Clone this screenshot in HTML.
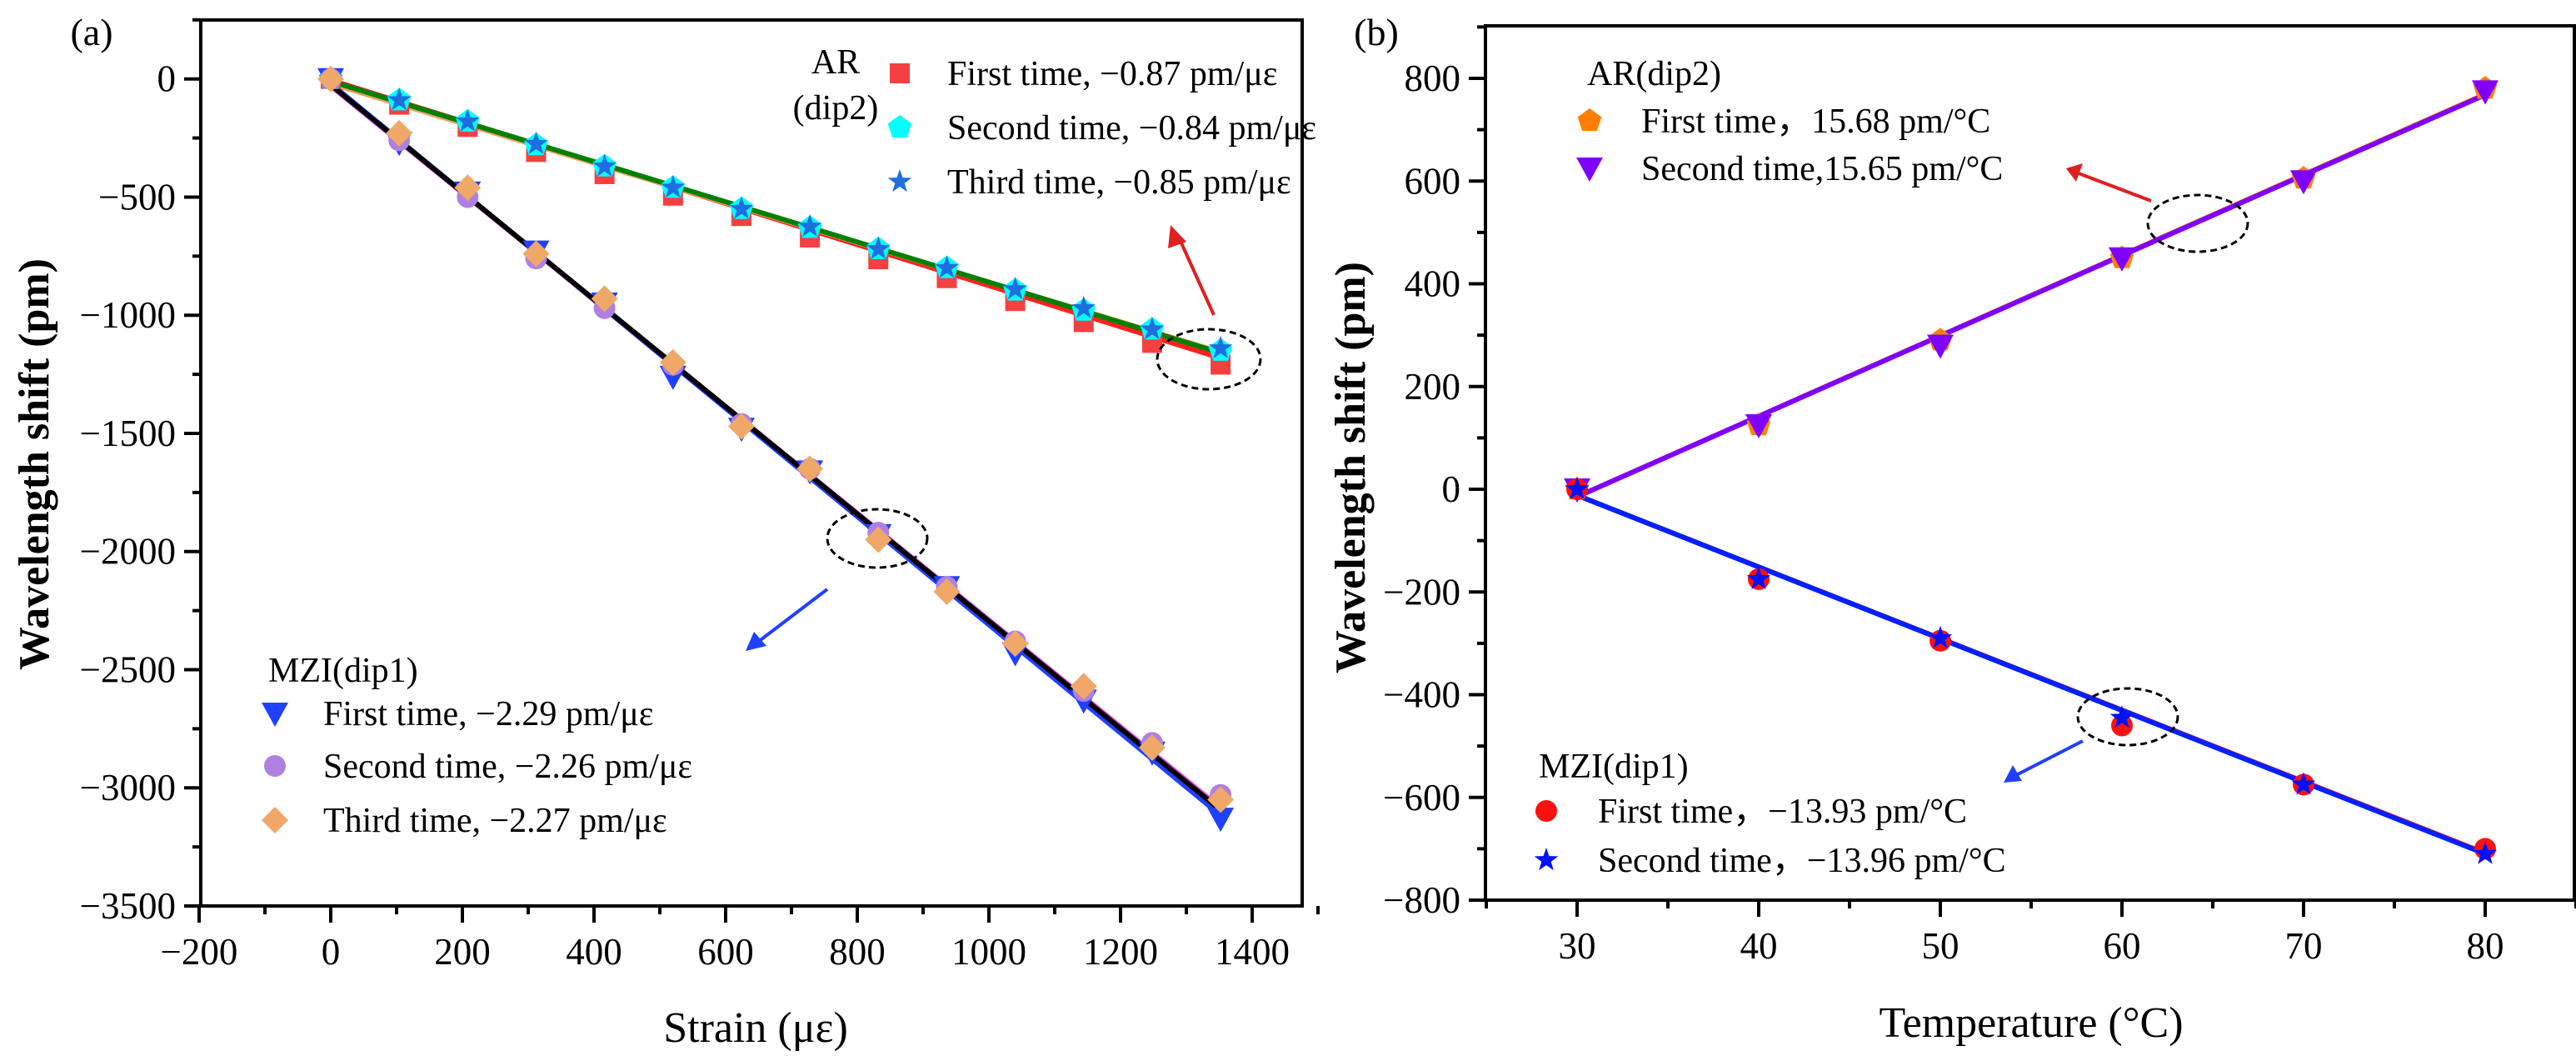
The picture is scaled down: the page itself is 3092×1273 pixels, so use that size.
<!DOCTYPE html>
<html><head><meta charset="utf-8"><style>
html,body{margin:0;padding:0;background:#fff;}
svg, svg text{font-family:"Liberation Serif","Times New Roman",serif;}
</style></head><body>
<svg id="chart" width="3092" height="1268" viewBox="0 0 3092 1268" xmlns="http://www.w3.org/2000/svg" font-family="Liberation Serif, serif">
<g id="pa"></g>
<g id="pb"></g>
</svg>
<script>
// Panel (a) data
const strainX = [0,104,208,312,416,520,624,728,832,936,1040,1144,1248,1352];
const arFirst  = [0,-109,-203,-309,-403,-494,-580,-671,-763,-843,-940,-1029,-1117,-1209];
const arSecond = [0,-90,-180,-280,-370,-460,-550,-630,-720,-800,-895,-980,-1060,-1150];
const arThird  = [0,-90,-180,-275,-370,-460,-550,-625,-720,-800,-890,-970,-1060,-1140];
const mziFirst  = [0,-270,-480,-730,-950,-1260,-1480,-1660,-1930,-2150,-2430,-2630,-2850,-3130];
const mziSecond = [0,-260,-500,-760,-970,-1210,-1460,-1650,-1920,-2150,-2380,-2590,-2810,-3030];
const mziThird  = [0,-230,-460,-740,-930,-1200,-1470,-1650,-1950,-2170,-2390,-2570,-2830,-3050];
const arSlopes = [-0.87,-0.84,-0.85];
const arIntercepts = [-5,-20,-10];
const mziSlopes = [-2.29,-2.26,-2.27];
const mziIntercepts = [-20,-30,-25];
const aXTicks = [-200,0,200,400,600,800,1000,1200,1400];
const aYTicks = [0,-500,-1000,-1500,-2000,-2500,-3000,-3500];
// Panel (b) data
const tempX = [30,40,50,60,70,80];
const bArFirst  = [0,125,290,450,605,780];
const bArSecond = [0,125,280,450,600,775];
const bMziFirst  = [0,-175,-295,-460,-575,-700];
const bMziSecond = [0,-175,-290,-445,-575,-710];
const bArSlopes = [15.68,15.65];
const bArIntercepts = [-485,-484];
const bMziSlopes = [-13.93,-13.96];
const bMziIntercepts = [406,407];
const bXTicks = [30,40,50,60,70,80];
const bYTicks = [800,600,400,200,0,-200,-400,-600,-800];

const NS='http://www.w3.org/2000/svg';
const FF='Liberation Serif, Times New Roman, serif';
function mk(parent,tag,attrs,text){const e=document.createElementNS(NS,tag);for(const k in attrs)e.setAttribute(k,attrs[k]);if(tag==='text'||tag==='g')e.setAttribute('font-family',FF);if(text!==undefined)e.textContent=text;parent.appendChild(e);return e;}
function fmt(v){return v<0?'\u2212'+(-v):String(v);}

function marker(g,type,cx,cy,color,name){
  let e;
  if(type==='square'){e=mk(g,'rect',{x:cx-12,y:cy-12,width:24,height:24,fill:color});}
  else if(type==='pentagon'||type==='star'){
    let pts=[];const n=type==='star'?10:5;
    for(let i=0;i<n;i++){const r=type==='star'?(i%2?6:15):15;const a=-Math.PI/2+i*2*Math.PI/n;pts.push((cx+r*Math.cos(a)).toFixed(1)+','+(cy+r*Math.sin(a)).toFixed(1));}
    e=mk(g,'polygon',{points:pts.join(' '),fill:color});
  }
  else if(type==='tridown'){e=mk(g,'polygon',{points:`${cx-16},${cy-13} ${cx+16},${cy-13} ${cx},${cy+16}`,fill:color});}
  else if(type==='circle'){e=mk(g,'circle',{cx:cx,cy:cy,r:13,fill:color});}
  else if(type==='diamond'){e=mk(g,'polygon',{points:`${cx},${cy-16} ${cx+16},${cy} ${cx},${cy+16} ${cx-16},${cy}`,fill:color});}
  
  
  return e;
}

function axes(g,o){
  const {L,R,T,B,xs,ys,xTicks,yTicks,xMinor,yMinor,xMin,xMax,yMin,yMax}=o;
  const fr=mk(g,'rect',{x:L,y:T,width:R-L,height:B-T,fill:'none',stroke:'#000','stroke-width':4});
  
  const tg=mk(g,'g',{stroke:'#000','stroke-width':4});
  
  for(let v=xMin;v<=xMax+1e-9;v+=xMinor){const x=xs(v);const major=xTicks.some(t=>Math.abs(t-v)<1e-6);mk(tg,'line',{x1:x,y1:B,x2:x,y2:B+(major?20:10)});}
  for(let v=yMin;v<=yMax+1e-9;v+=yMinor){const y=ys(v);const major=yTicks.some(t=>Math.abs(t-v)<1e-6);mk(tg,'line',{x1:L,y1:y,x2:L-(major?20:10),y2:y});}
  const xl=mk(g,'g',{'font-size':45,'text-anchor':'middle'});
  
  xTicks.forEach(t=>mk(xl,'text',{x:xs(t),y:B+70},fmt(t)));
  const yl=mk(g,'g',{'font-size':45,'text-anchor':'end'});
  
  yTicks.forEach(t=>mk(yl,'text',{x:L-30,y:ys(t)+15},fmt(t)));
}

// ---------- Panel a ----------
(function(){
const g=document.getElementById('pa');
const L=241,R=1563,T=24,B=1087;
const xs=v=>397+(v)*(555-397)/200;
const ys=v=>94.7+(-v)*(1087-94.7)/3500;
axes(g,{L,R,T,B,xs,ys,xTicks:aXTicks,yTicks:aYTicks,xMinor:100,yMinor:250,xMin:-200,xMax:1500,yMin:-3500,yMax:250});
const x0=strainX[0],x1=strainX[strainX.length-1];
const arLineColors=['#ff2020','#f0a060','#008000'];
arSlopes.forEach((m,i)=>{const l=mk(g,'line',{x1:xs(x0),y1:ys(arIntercepts[i]+m*x0),x2:xs(x1),y2:ys(arIntercepts[i]+m*x1),stroke:arLineColors[i],'stroke-width':6});
});
const mziLineColors=['#2040ff','#e040e0','#000000'];
mziSlopes.forEach((m,i)=>{const l=mk(g,'line',{x1:xs(x0),y1:ys(mziIntercepts[i]+m*x0),x2:xs(x1),y2:ys(mziIntercepts[i]+m*x1),stroke:mziLineColors[i],'stroke-width':6});
});
const sets=[[arFirst,'square','#f44040','ar-first-point'],[arSecond,'pentagon','#00ffff','ar-second-point'],[arThird,'star','#1e6ee0','ar-third-point'],
[mziFirst,'tridown','#2040ff','mzi-first-point'],[mziSecond,'circle','#b080e0','mzi-second-point'],[mziThird,'diamond','#f0a868','mzi-third-point']];
sets.forEach(s=>s[0].forEach((v,i)=>marker(g,s[1],xs(strainX[i]),ys(v),s[2],s[3])));
let e=mk(g,'ellipse',{cx:1451,cy:431,rx:62,ry:36,fill:'none',stroke:'#000','stroke-width':3,'stroke-dasharray':'8,5'});
e=mk(g,'ellipse',{cx:1053,cy:646,rx:60,ry:35,fill:'none',stroke:'#000','stroke-width':3,'stroke-dasharray':'8,5'});
e=mk(g,'line',{x1:1457,y1:378,x2:1415,y2:285,stroke:'#e02020','stroke-width':4});
mk(g,'polygon',{points:'1405,270 1402,298 1424,290',fill:'#e02020'});
e=mk(g,'line',{x1:993,y1:707,x2:910,y2:770,stroke:'#2040ff','stroke-width':4});
mk(g,'polygon',{points:'895,781 905,758 920,775',fill:'#2040ff'});
const lg=mk(g,'g',{'font-size':42});
mk(lg,'text',{x:1003,y:88,'text-anchor':'middle'},'AR');
mk(lg,'text',{x:1003,y:143,'text-anchor':'middle'},'(dip2)');
marker(lg,'square',1080,88,'#f44040','legend-marker');marker(lg,'pentagon',1080,153,'#00ffff','legend-marker');marker(lg,'star',1080,218,'#1e6ee0','legend-marker');
mk(lg,'text',{x:1137,y:102},'First time, \u22120.87 pm/\u03bc\u03b5');
mk(lg,'text',{x:1137,y:167},'Second time, \u22120.84 pm/\u03bc\u03b5');
mk(lg,'text',{x:1137,y:232},'Third time, \u22120.85 pm/\u03bc\u03b5');
const lm=mk(g,'g',{'font-size':42});
mk(lm,'text',{x:322,y:818},'MZI(dip1)');
marker(lm,'tridown',330,856,'#2040ff','legend-marker');marker(lm,'circle',330,919,'#b080e0','legend-marker');marker(lm,'diamond',330,984,'#f0a868','legend-marker');
mk(lm,'text',{x:388,y:870},'First time, \u22122.29 pm/\u03bc\u03b5');
mk(lm,'text',{x:388,y:933},'Second time, \u22122.26 pm/\u03bc\u03b5');
mk(lm,'text',{x:388,y:998},'Third time, \u22122.27 pm/\u03bc\u03b5');
e=mk(g,'text',{x:110,y:54,'font-size':46,'text-anchor':'middle'},'(a)');
e=mk(g,'text',{x:907,y:1250,'font-size':52,'text-anchor':'middle'},'Strain (\u03bc\u03b5)');
e=mk(g,'text',{x:0,y:0,'font-size':52,'font-weight':'bold','text-anchor':'middle',transform:'translate(58,557) rotate(-90)'},'Wavelength shift (pm)');
})();

// ---------- Panel b ----------
(function(){
const g=document.getElementById('pb');
const L=1783,R=3090,T=31,B=1080;
const xs=v=>1893+(v-30)*(2983-1893)/50;
const ys=v=>94+(800-v)*(1080-94)/1600;
axes(g,{L,R,T,B,xs,ys,xTicks:bXTicks,yTicks:bYTicks,xMinor:5,yMinor:100,xMin:25,xMax:85,yMin:-800,yMax:900});
const x0=tempX[0],x1=tempX[tempX.length-1];
const arC=['#ff8000','#8000ff'];
bArSlopes.forEach((m,i)=>{const l=mk(g,'line',{x1:xs(x0),y1:ys(bArIntercepts[i]+m*x0),x2:xs(x1),y2:ys(bArIntercepts[i]+m*x1),stroke:arC[i],'stroke-width':6});
});
const mzC=['#ff2020','#0020ff'];
bMziSlopes.forEach((m,i)=>{const l=mk(g,'line',{x1:xs(x0),y1:ys(bMziIntercepts[i]+m*x0),x2:xs(x1),y2:ys(bMziIntercepts[i]+m*x1),stroke:mzC[i],'stroke-width':6});
});
const sets=[[bArFirst,'pentagon','#ff8000','ar-first-point'],[bArSecond,'tridown','#8000ff','ar-second-point'],[bMziFirst,'circle','#ff1010','mzi-first-point'],[bMziSecond,'star','#0010ff','mzi-second-point']];
sets.forEach(s=>s[0].forEach((v,i)=>marker(g,s[1],xs(tempX[i]),ys(v),s[2],s[3])));
let e=mk(g,'ellipse',{cx:2638,cy:268,rx:60,ry:34,fill:'none',stroke:'#000','stroke-width':3,'stroke-dasharray':'8,5'});
e=mk(g,'ellipse',{cx:2554,cy:860,rx:60,ry:34,fill:'none',stroke:'#000','stroke-width':3,'stroke-dasharray':'8,5'});
e=mk(g,'line',{x1:2582,y1:241,x2:2495,y2:208,stroke:'#e02020','stroke-width':4});
mk(g,'polygon',{points:'2480,202 2500,196 2492,218',fill:'#e02020'});
e=mk(g,'line',{x1:2500,y1:889,x2:2420,y2:930,stroke:'#2040ff','stroke-width':4});
mk(g,'polygon',{points:'2405,939 2416,918 2427,937',fill:'#2040ff'});
const lg=mk(g,'g',{'font-size':42});
mk(lg,'text',{x:1905,y:102},'AR(dip2)');
marker(lg,'pentagon',1908,145,'#ff8000','legend-marker');marker(lg,'tridown',1908,202,'#8000ff','legend-marker');
mk(lg,'text',{x:1970,y:159},'First time\uff0c15.68 pm/\u00b0C');
mk(lg,'text',{x:1970,y:216},'Second time,15.65 pm/\u00b0C');
const lm=mk(g,'g',{'font-size':42});
mk(lm,'text',{x:1847,y:933},'MZI(dip1)');
marker(lm,'circle',1856,973,'#ff1010','legend-marker');marker(lm,'star',1856,1032,'#0010ff','legend-marker');
mk(lm,'text',{x:1918,y:987},'First time\uff0c\u221213.93 pm/\u00b0C');
mk(lm,'text',{x:1918,y:1046},'Second time\uff0c\u221213.96 pm/\u00b0C');
e=mk(g,'text',{x:1652,y:54,'font-size':46,'text-anchor':'middle'},'(b)');
e=mk(g,'text',{x:2438,y:1244,'font-size':52,'text-anchor':'middle'},'Temperature (\u00b0C)');
e=mk(g,'text',{x:0,y:0,'font-size':52,'font-weight':'bold','text-anchor':'middle',transform:'translate(1638,561) rotate(-90)'},'Wavelength shift (pm)');
})();
</script>
</body></html>
